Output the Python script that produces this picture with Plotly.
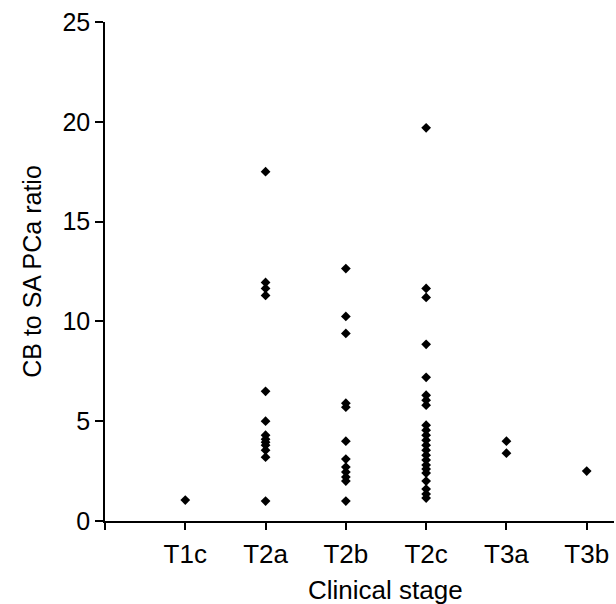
import plotly.graph_objects as go

categories = ["T1c", "T2a", "T2b", "T2c", "T3a", "T3b"]
t1c = [1.05]
t2a = [17.5, 11.95, 11.65, 11.3, 6.5, 5.0, 4.3, 4.1, 3.95, 3.8, 3.55, 3.2, 1.0]
t2b = [12.65, 10.25, 9.4, 5.9, 5.7, 4.0, 3.1, 2.7, 2.45, 2.2, 2.0, 1.0]
t2c = [19.7, 11.65, 11.2, 8.85, 7.2, 6.3, 6.05, 5.8, 4.8, 4.55, 4.3, 4.05, 3.8,
       3.55, 3.3, 3.05, 2.8, 2.6, 2.4, 2.0, 1.6, 1.35, 1.15]
t3a = [4.0, 3.4]
t3b = [2.5]
groups = [t1c, t2a, t2b, t2c, t3a, t3b]

xs, ys = [], []
for i, vals in enumerate(groups):
    for v in vals:
        xs.append(i + 1)
        ys.append(v)

FONT = "Liberation Sans, Arial, sans-serif"
FS = 25

fig = go.Figure()
fig.add_trace(go.Scatter(
    x=xs, y=ys, mode="markers",
    marker=dict(symbol="diamond", size=7.5, color="black", line=dict(width=0)),
    showlegend=False, hoverinfo="skip",
))

fig.add_annotation(
    text="Clinical stage", xref="x", yref="paper", x=3.5, y=-0.138,
    xanchor="center", yanchor="middle", showarrow=False,
    font=dict(family=FONT, size=26, color="black"),
)

fig.update_layout(
    width=616, height=604,
    margin=dict(l=105, r=2, t=22, b=83),
    paper_bgcolor="white", plot_bgcolor="white",
    font=dict(family=FONT, size=FS, color="black"),
    xaxis=dict(
        range=[0, 6.34], showgrid=False, zeroline=False,
        showline=True, linecolor="black", linewidth=1.5,
        tickmode="array", tickvals=list(range(0, 7)),
        ticktext=[""] + categories,
        ticks="outside", ticklen=7, tickwidth=1.5, tickcolor="black",
        tickfont=dict(family=FONT, size=26, color="black"),
        ticklabelstandoff=2,
    ),
    yaxis=dict(
        range=[0, 25], showgrid=False, zeroline=False,
        showline=True, linecolor="black", linewidth=1.5,
        tickmode="array", tickvals=[0, 5, 10, 15, 20, 25],
        ticks="outside", ticklen=8, tickwidth=1.5, tickcolor="black",
        tickfont=dict(family=FONT, size=FS, color="black"),
        title=dict(text="CB to SA PCa ratio", font=dict(family=FONT, size=FS, color="black"), standoff=14),
    ),
)

fig.write_html("out.html")
